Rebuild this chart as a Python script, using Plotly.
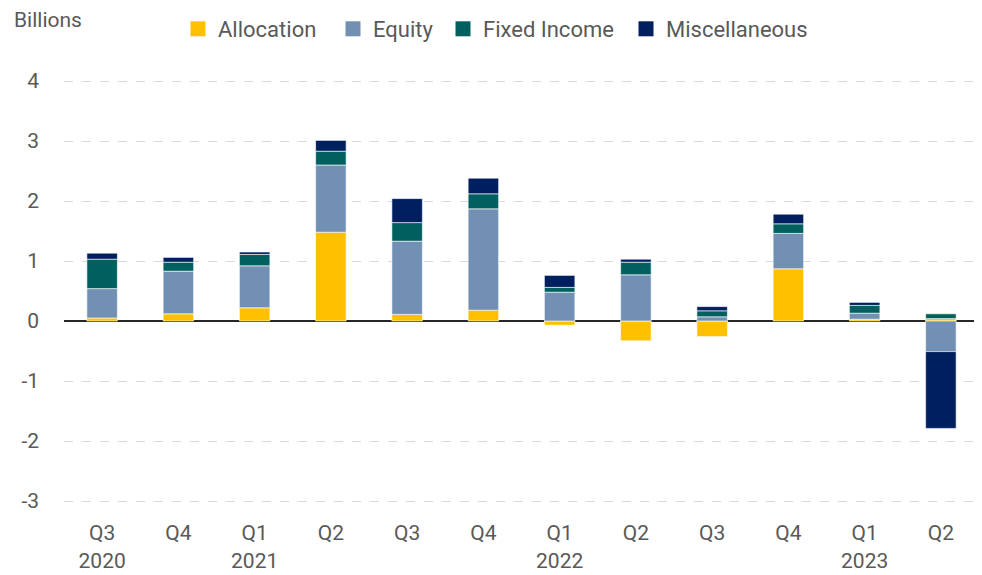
import plotly.graph_objects as go

quarters = ["Q3<br>2020", "Q4", "Q1<br>2021", "Q2", "Q3", "Q4", "Q1<br>2022", "Q2", "Q3", "Q4", "Q1<br>2023", "Q2"]
allocation = [0.05, 0.12, 0.22, 1.48, 0.11, 0.18, -0.07, -0.33, -0.26, 0.87, 0.03, 0.04]
equity = [0.49, 0.71, 0.70, 1.12, 1.22, 1.69, 0.48, 0.77, 0.07, 0.59, 0.10, -0.51]
fixed_income = [0.49, 0.15, 0.19, 0.23, 0.31, 0.25, 0.08, 0.21, 0.10, 0.16, 0.13, 0.08]
misc = [0.10, 0.08, 0.04, 0.18, 0.40, 0.26, 0.20, 0.05, 0.07, 0.16, 0.05, -1.28]
y_ticks = [-3, -2, -1, 0, 1, 2, 3, 4]
y_labels = ["-3", "-2", "-1", "0", "1", "2", "3", "4"]

series = [
    ("Allocation", allocation, "#FFC000"),
    ("Equity", equity, "#7290B3"),
    ("Fixed Income", fixed_income, "#00605F"),
    ("Miscellaneous", misc, "#001F5F"),
]

FONT = "Roboto, sans-serif"
TXT = "#595959"

# page is offset by the 8px default body margin
OFF = 8
W, H = 982 - OFF, 575 - OFF
PL, PR, PT, PB = 64, 979, 78, 504  # plot area in page pixels
ML, MR, MT, MB = PL - OFF, 982 - PR, PT - OFF, 575 - PB

x_idx = list(range(len(quarters)))
fig = go.Figure()
for name, vals, col in series:
    fig.add_trace(go.Bar(
        x=x_idx, y=vals, name=name, marker_color=col,
        marker_line=dict(color="rgba(255,255,255,0.6)", width=1),
        width=0.4, showlegend=False,
    ))

legend_ids = ["legend", "legend2", "legend3", "legend4"]
square_left = [192, 347, 457, 640]  # page x of legend squares
legend_layout = {}
for (name, vals, col), lid, sx in zip(series, legend_ids, square_left):
    fig.add_trace(go.Scatter(
        x=[None], y=[None], mode="markers", name=name,
        marker=dict(symbol="square", size=15, color=col),
        showlegend=True, legend=lid,
    ))
    X = sx + 8 - 20 - 2
    legend_layout[lid] = dict(
        orientation="h", x=(X - PL) / (PR - PL), xanchor="left",
        yref="container", y=1 - (29 - OFF) / H, yanchor="middle",
        font=dict(family=FONT, size=22, color=TXT),
        bgcolor="rgba(0,0,0,0)",
    )

fig.update_layout(
    width=W, height=H,
    margin=dict(l=ML, r=MR, t=MT, b=MB, autoexpand=False),
    barmode="relative",
    plot_bgcolor="white", paper_bgcolor="white",
    font=dict(family=FONT, size=21, color=TXT),
    **legend_layout,
)
fig.add_annotation(text="Billions", xref="paper", yref="paper",
                   x=(12 - PL) / (PR - PL), y=(PB - 20) / (PB - PT),
                   xanchor="left", yanchor="middle",
                   showarrow=False, font=dict(family=FONT, size=21, color=TXT))

fig.update_xaxes(
    tickmode="array", tickvals=x_idx, ticktext=quarters,
    range=[-0.5, 11.5], showgrid=False, showline=False, zeroline=False,
    ticks="outside", ticklen=10, tickcolor="rgba(0,0,0,0)",
    tickfont=dict(family=FONT, size=21, color=TXT),
)
fig.update_yaxes(
    range=[-3.05, 4.05], tickmode="array", tickvals=y_ticks, ticktext=y_labels,
    showgrid=True, gridcolor="#D9D9D9", griddash="dash", gridwidth=1,
    zeroline=True, zerolinecolor="#262626", zerolinewidth=2,
    showline=False, ticklabelstandoff=24,
    tickfont=dict(family=FONT, size=21, color=TXT),
)

fig.write_html("out.html")
